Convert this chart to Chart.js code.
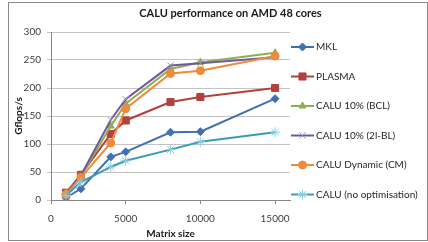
<!DOCTYPE html>
<html>
<head>
<meta charset="utf-8">
<script src="https://cdn.jsdelivr.net/npm/chart.js@4"></script>
<style>
html, body { margin: 0; padding: 0; background: #fff; }
#wrap { position: relative; width: 428px; height: 242px; }
#frame { position: absolute; left: 8px; top: 2px; width: 418px; height: 237px; border: 1px solid #8a8a8a; pointer-events: none; }
</style>
</head>
<body>
<div id="wrap">
  <canvas id="myChart" width="428" height="242"></canvas>
  <div id="frame"></div>
</div>
<script>
// values
const matrixSizes = [1000, 2000, 4000, 5000, 8000, 10000, 15000];
const seriesNames = ['MKL', 'PLASMA', 'CALU 10% (BCL)', 'CALU 10% (2l-BL)', 'CALU Dynamic (CM)', 'CALU (no optimisation)'];
const mklValues = [4, 20, 77, 86, 121, 122, 181];
const plasmaValues = [13, 45, 118, 142, 175, 184, 200];
const bclValues = [12, 42, 132, 172, 234, 246, 263];
const twoLevelValues = [10, 44, 143, 180, 240, 244, 255];
const dynamicValues = [10, 40, 102, 163, 226, 231, 257];
const noOptValues = [8, 32, 59, 70, 90, 104, 121];
const xTicks = [0, 5000, 10000, 15000];
const yTicks = [0, 50, 100, 150, 200, 250, 300];

const allValues = [mklValues, plasmaValues, bclValues, twoLevelValues, dynamicValues, noOptValues];
const lineColors = ['#4170B0', '#B3403D', '#8DB04E', '#7257A0', '#EE8A3A', '#3A9CBA'];
const markerFill = ['#4170B0', '#B3403D', '#8DB04E', '#A593C4', '#EE8A3A', '#89CFE0'];
const markerStyles = ['rectRot', 'rect', 'triangle', 'crossRot', 'circle', 'star'];
const markerSizes = [4, 5, 4, 4.5, 4, 5];

const datasets = allValues.map((vals, i) => ({
    label: seriesNames[i],
    data: vals.map((v, j) => ({x: matrixSizes[j], y: v})),
    showLine: true,
    tension: 0,
    borderColor: lineColors[i],
    borderWidth: 2,
    pointStyle: markerStyles[i],
    pointRadius: markerSizes[i],
    pointBackgroundColor: markerFill[i],
    pointBorderColor: markerFill[i],
    pointBorderWidth: 1,
    order: allValues.length - i,
    yAxisID: 'y'
}));

const font = 'Lato';

// Excel-like legend at the right, line with marker in the middle
const sideLegend = {
    id: 'sideLegend',
    afterDraw(chart) {
        const ctx = chart.ctx;
        const area = chart.chartArea;
        const x0 = area.right + 1;
        chart.data.datasets.forEach((ds, i) => {
            const y = area.top + 15 + i * 29.5;
            ctx.save();
            ctx.strokeStyle = ds.borderColor;
            ctx.lineWidth = ds.borderWidth;
            ctx.beginPath();
            ctx.moveTo(x0, y);
            ctx.lineTo(x0 + 23, y);
            ctx.stroke();
            ctx.fillStyle = ds.pointBackgroundColor;
            ctx.strokeStyle = ds.pointBorderColor;
            ctx.lineWidth = 1;
            if (Chart.helpers && Chart.helpers.drawPoint) {
                Chart.helpers.drawPoint(ctx, {pointStyle: ds.pointStyle, radius: ds.pointRadius, rotation: 0, borderWidth: 1}, x0 + 11.5, y);
            }
            ctx.fillStyle = '#262626';
            ctx.font = '10px ' + font;
            ctx.textBaseline = 'middle';
            ctx.textAlign = 'left';
            ctx.fillText(ds.label, x0 + 25, y);
            ctx.restore();
        });
    }
};

const ctx = document.getElementById('myChart').getContext('2d');
const myChart = new Chart(ctx, {
    type: 'scatter',
    data: { datasets: datasets },
    plugins: [sideLegend],
    options: {
        responsive: false,
        animation: false,
        layout: { padding: { left: 20, right: -13, top: 3, bottom: 2 } },
        plugins: {
            legend: { display: false },
            tooltip: { enabled: false },
            title: {
                display: true,
                text: 'CALU performance on AMD 48 cores',
                color: '#1a1a1a',
                font: { family: font, size: 11, weight: 'bold' },
                padding: { top: 4, bottom: 11.8 }
            }
        },
        scales: {
            x: {
                type: 'linear',
                min: 0,
                max: 16000,
                afterBuildTicks: axis => { axis.ticks = xTicks.map(v => ({value: v})); },
                afterFit: scale => { scale.height = 40; },
                grid: { drawOnChartArea: false, tickLength: 4, color: '#868686' },
                border: { color: '#868686' },
                ticks: {
                    padding: 9,
                    maxRotation: 0,
                    color: '#404040',
                    font: { family: font, size: 10 },
                    callback: v => String(v)
                },
                title: {
                    display: true,
                    text: 'Matrix size',
                    color: '#1a1a1a',
                    font: { family: font, size: 10, weight: 'bold' },
                    padding: 0
                }
            },
            y: {
                min: 0,
                max: 300,
                afterBuildTicks: axis => { axis.ticks = yTicks.map(v => ({value: v})); },
                afterFit: scale => { scale.width = 31; },
                grid: { color: '#c4c4c4', tickLength: 4 },
                border: { color: '#868686' },
                ticks: { padding: 6, color: '#404040', font: { family: font, size: 10 } },
                title: {
                    display: true,
                    text: 'Gflops/s',
                    color: '#1a1a1a',
                    font: { family: font, size: 10, weight: 'bold' },
                    padding: { top: -7, bottom: 0 }
                }
            },
            legendSpace: {
                axis: 'y',
                position: 'right',
                display: true,
                ticks: { display: false },
                grid: { display: false },
                border: { display: false },
                afterFit: scale => { scale.width = 151; }
            }
        }
    }
});
</script>
</body>
</html>
